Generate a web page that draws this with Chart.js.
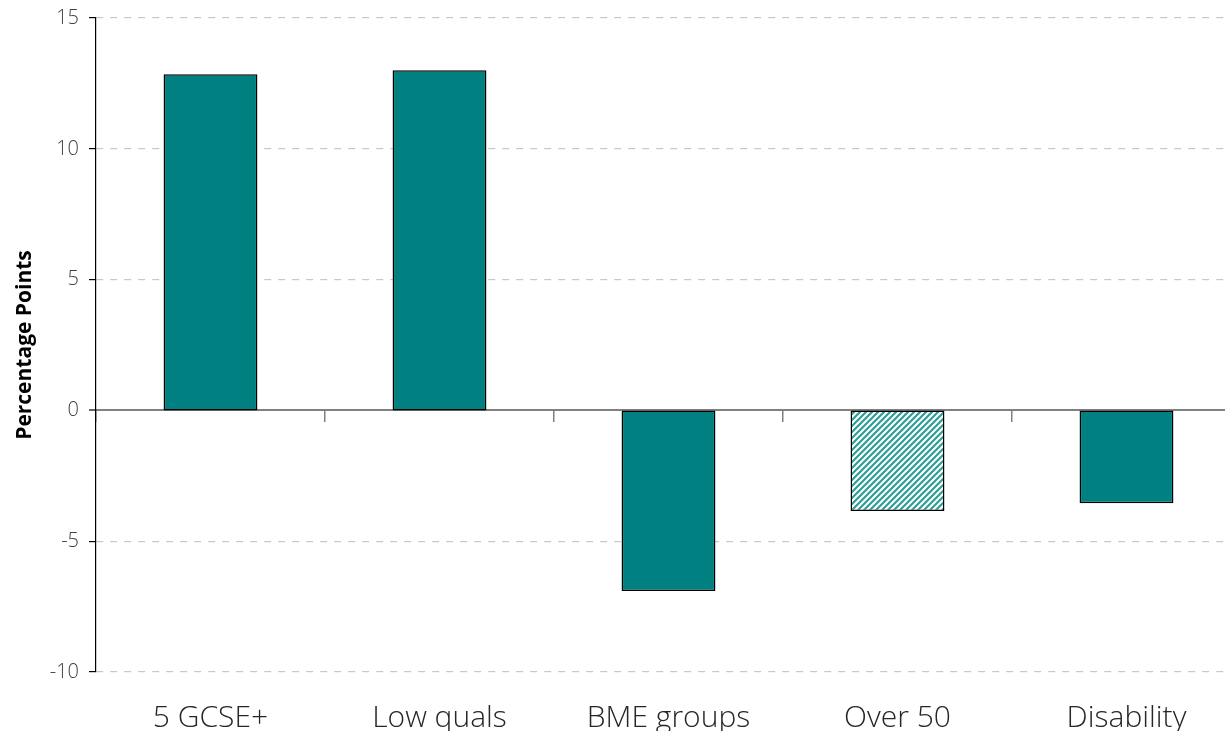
<!DOCTYPE html>
<html>
<head>
<meta charset="utf-8">
<script src="https://cdn.jsdelivr.net/npm/chart.js@4"></script>
<style>
  html, body { margin: 0; padding: 0; overflow: hidden; background: #fff; }
  #wrap { position: relative; width: 1241px; height: 731px; }
</style>
</head>
<body>
<div id="wrap"><canvas id="myChart"></canvas></div>
<script>
// categories and values (percentage points)
const categories = ['5 GCSE+', 'Low quals', 'BME groups', 'Over 50', 'Disability'];
const values = [12.85, 13.0, -6.9, -3.85, -3.55];
// which bars are drawn hatched (not significant)
const hatched = [false, false, false, true, false];
const yTicks = [-10, -5, 0, 5, 10, 15];

const teal = '#008080';
const fontFamily = "'Open Sans', 'Noto Sans', sans-serif";

// diagonal stripe pattern for the hatched bar
function makeHatch() {
  const c = document.createElement('canvas');
  c.width = 6;
  c.height = 6;
  const g = c.getContext('2d');
  g.fillStyle = '#ffffff';
  g.fillRect(0, 0, 6, 6);
  g.strokeStyle = '#2f9e97';
  g.lineWidth = 2.2;
  g.beginPath();
  g.moveTo(-1, 7); g.lineTo(7, -1);
  g.moveTo(-4, 4); g.lineTo(4, -4);
  g.moveTo(2, 10); g.lineTo(10, 2);
  g.stroke();
  return g.createPattern(c, 'repeat');
}
const hatch = makeHatch();

const data = {
  labels: categories,
  datasets: [
    {
      data: values,
      backgroundColor: hatched.map(h => (h ? hatch : teal)),
      borderColor: '#000000',
      borderWidth: 1.5,
      borderSkipped: false,
      categoryPercentage: 1,
      barPercentage: 0.41,
      xAxisID: 'x',
    },
  ],
};

const config = {
  type: 'bar',
  data: data,
  options: {
    responsive: true,
    maintainAspectRatio: false,
    animation: false,
    layout: { padding: { top: 18, right: 0, bottom: 0, left: 0 } },
    scales: {
      x: {
        position: 'bottom',
        grid: { display: false, drawTicks: false },
        border: { display: false },
        afterFit: (scale) => {
          scale.height = 59;
        },
        ticks: {
          color: '#262626',
          padding: 31,
          font: { family: fontFamily, size: 30, weight: '300', lineHeight: 1 },
        },
      },
      // zero line with small tick marks between categories
      x0: {
        type: 'category',
        position: { y: 0 },
        labels: categories,
        offset: true,
        afterFit: (scale) => {
          scale.height = 0;
        },
        grid: {
          offset: true,
          drawOnChartArea: false,
          drawTicks: true,
          tickLength: 11,
          color: '#808080',
          lineWidth: 1.5,
        },
        border: { display: true, color: '#808080', width: 2 },
        ticks: { display: false },
      },
      y: {
        min: -10,
        max: 15,
        afterBuildTicks: (scale) => {
          scale.ticks = yTicks.map(v => ({ value: v }));
        },
        afterFit: (scale) => {
          scale.width = 96;
          scale.paddingTop = 0;
          scale.paddingBottom = 0;
        },
        grid: {
          color: (ctx) => (ctx.tick && ctx.tick.value === 0 ? 'rgba(0,0,0,0)' : '#c8c8c8'),
          lineWidth: (ctx) => (ctx.tick && ctx.tick.value === 0 ? 0 : 1.2),
          tickColor: '#000000',
          tickLength: 7,
          tickWidth: 1.2,
          tickBorderDash: [],
        },
        border: { display: true, color: '#000000', width: 1.2, dash: [7, 7] },
        ticks: {
          color: '#404040',
          padding: 10,
          font: { family: fontFamily, size: 20, weight: '300' },
        },
        title: {
          display: true,
          text: 'Percentage Points',
          color: '#000000',
          padding: { top: 12, bottom: 0 },
          font: { family: fontFamily, size: 21, weight: 'bold' },
        },
      },
    },
    plugins: {
      legend: { display: false },
      tooltip: { enabled: false },
    },
  },
};

const myChart = new Chart(document.getElementById('myChart'), config);
</script>
</body>
</html>
